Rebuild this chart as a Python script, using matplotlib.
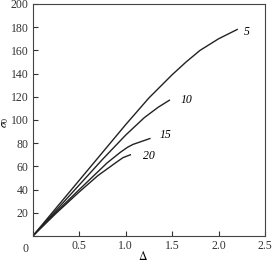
import matplotlib
matplotlib.use('Agg')
import matplotlib.pyplot as plt

plt.rcParams['font.family'] = ['Liberation Serif', 'DejaVu Serif']
plt.rcParams['mathtext.fontset'] = 'stix'

# curve data (delta, sigma_0)
d5 = [0, 0.25, 0.5, 0.75, 1.0, 1.25, 1.5, 1.65, 1.8, 1.9, 2.0, 2.1, 2.2]
s5 = [0, 24, 48, 72, 96, 119, 139, 150, 160, 165, 170, 174, 178]
d10 = [0, 0.25, 0.5, 0.75, 1.0, 1.2, 1.35, 1.47]
s10 = [0, 22, 44, 66, 87, 102, 111, 117]
d15 = [0, 0.25, 0.5, 0.8, 0.94, 1.02, 1.08, 1.17, 1.26]
s15 = [0, 20.5, 40, 63, 72, 76.5, 79, 81.5, 84]
d20 = [0, 0.25, 0.5, 0.7, 0.89, 0.97, 1.05]
s20 = [0, 19.5, 38, 52, 63, 67.5, 70]

curves = [(d5, s5, '5'), (d10, s10, '10'), (d15, s15, '15'), (d20, s20, '20')]
label_pos = {'5': (2.27, 176), '10': (1.59, 117), '15': (1.37, 87), '20': (1.19, 69)}

xticks = [0, 0.5, 1.0, 1.5, 2.0, 2.5]
xticklabels = ['', '0.5', '1.0', '1.5', '2.0', '2.5']
yticks = list(range(0, 201, 20))
yticklabels = [''] + [str(v) for v in yticks[1:]]

fig = plt.figure(figsize=(2.73, 2.64), dpi=100)
ax = fig.add_axes([0.12, 0.106, 0.851, 0.879])

for d, s, lab in curves:
    ax.plot(d, s, color='#222222', lw=1.0)
    ax.text(label_pos[lab][0], label_pos[lab][1], lab, fontsize=8.5, style='italic',
            ha='left', va='center')

ax.set_xlim(0, 2.5)
ax.set_ylim(0, 200)
ax.set_xticks(xticks)
ax.set_xticklabels(xticklabels)
ax.set_yticks(yticks)
ax.set_yticklabels(yticklabels)
ax.tick_params(direction='in', length=3.5, width=0.8, labelsize=8.5, colors='#333333', pad=3)
ax.annotate('0', xy=(0, 0), xytext=(-5, -9), textcoords='offset points',
            fontsize=8.5, ha='center', va='center', color='#333333')
for sp in ax.spines.values():
    sp.set_linewidth(0.8)
    sp.set_color('#444444')

ax.set_xlabel(r'$\Delta$', fontsize=8.5, va='center')
ax.xaxis.set_label_coords(0.475, -0.09)
ax.set_ylabel(r'$\sigma_0$', fontsize=8, va='center')
ax.yaxis.set_label_coords(-0.118, 0.49)

fig.savefig('out.png', dpi=100)
